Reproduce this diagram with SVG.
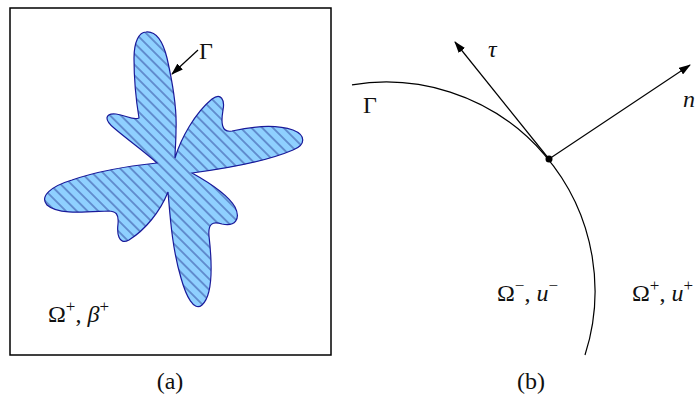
<svg xmlns="http://www.w3.org/2000/svg" width="695" height="395" viewBox="0 0 695 395">
<style>
text{font-family:"Liberation Serif","DejaVu Serif",serif;fill:#111;font-size:24px}
.it{font-style:italic}
.sup{font-size:17px}
.ln{fill:none;stroke:#000;stroke-width:1.2}
</style>
<defs>
<pattern id="hatch" patternUnits="userSpaceOnUse" width="7.6" height="7.6" patternTransform="rotate(45)">
<rect width="7.6" height="7.6" fill="#8fd0ff"/>
<line x1="0" y1="3.8" x2="7.6" y2="3.8" stroke="#1a2380" stroke-width="0.75"/>
</pattern>
<marker id="ah" viewBox="0 0 12 8" refX="11" refY="4" markerWidth="12" markerHeight="8" markerUnits="userSpaceOnUse" orient="auto">
<path d="M0,0 L12,4 L0,8 Z" fill="#000"/>
</marker>
</defs>
<g id="panel-a">
<rect x="10" y="8" width="321" height="347" fill="#fff" stroke="#000" stroke-width="1.5"/>
<g id="flower">
<path fill="url(#hatch)" stroke="#1a1a9a" stroke-width="1.2" d="M 146,32 C 156,31 163,42 167,58 C 172,80 177,110 176,130 C 176,142 175,150 175,158 C 181,138 195,113 212,99 C 221,92 225,100 223,110 C 221,122 221,133 232,131 C 250,127 275,124 293,130 C 306,135 306,145 293,150 C 265,162 230,168 192,173 C 210,183 228,195 235,207 C 241,219 235,227 222,224 C 212,221 208,224 209,236 C 212,262 213,295 202,305 C 194,312 186,296 181,278 C 172,248 170,215 168,192 C 160,212 145,230 129,240 C 118,246 117,232 118,224 C 119,214 116,211 108,211 C 85,212 58,215 47,205 C 39,196 52,186 72,180 C 98,171 128,166 157,163 C 145,152 128,140 114,128 C 103,119 106,113 116,114 C 126,115 133,121 139,118 C 136,100 134,75 134,58 C 134,42 139,32 146,32 Z"/>
</g>
<g id="gamma-a">
<line class="ln" x1="198" y1="50" x2="172" y2="74" marker-end="url(#ah)"/>
<text x="199" y="59">Γ</text>
</g>
<text id="label-a-omega" x="48" y="322">Ω<tspan class="sup" dy="-10">+</tspan><tspan dy="10">, </tspan><tspan class="it">β</tspan><tspan class="sup" dy="-10">+</tspan></text>
<text id="caption-a" x="170" y="389" text-anchor="middle">(a)</text>
</g>
<g id="panel-b">
<g id="connectors">
<path class="ln" d="M 352,84.8 A 209 209 0 0 1 585,355"/>
<line class="ln" x1="549" y1="159" x2="455" y2="42" marker-end="url(#ah)"/>
<line class="ln" x1="549" y1="159" x2="690" y2="65" marker-end="url(#ah)"/>
</g>
<g id="point"><circle cx="549" cy="159" r="3.5" fill="#000"/></g>
<text class="it" x="488" y="57">τ</text>
<text class="it" x="683" y="107">n</text>
<text x="363" y="113">Γ</text>
<text x="497" y="301">Ω<tspan class="sup" dy="-10">−</tspan><tspan dy="10">, </tspan><tspan class="it">u</tspan><tspan class="sup" dy="-10">−</tspan></text>
<text x="632" y="301">Ω<tspan class="sup" dy="-10">+</tspan><tspan dy="10">, </tspan><tspan class="it">u</tspan><tspan class="sup" dy="-10">+</tspan></text>
<text id="caption-b" x="531" y="389" text-anchor="middle">(b)</text>
</g>
</svg>
